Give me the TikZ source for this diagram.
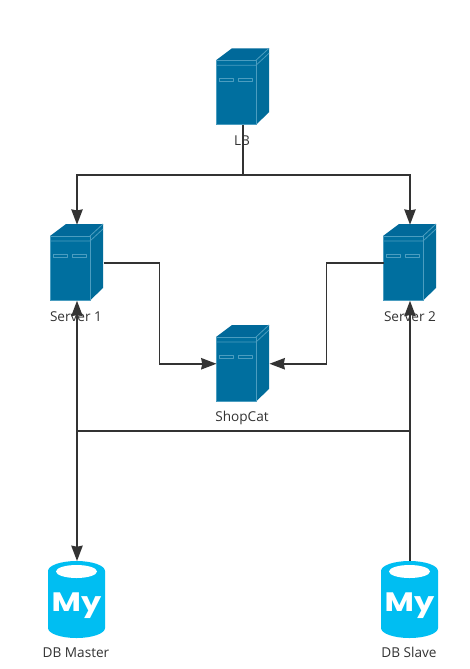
\documentclass[tikz,border=0pt]{standalone}
\usepackage{fontspec}
\setmainfont{Open Sans}
\newfontfamily\logofont{Poppins}
\usetikzlibrary{arrows.meta}
\definecolor{srvface}{HTML}{006F9F}
\definecolor{srvtop}{HTML}{00699A}
\definecolor{srvside}{HTML}{006C9A}
\definecolor{srvline}{HTML}{4B9DC0}
\definecolor{dbblue}{HTML}{00BEF2}
\definecolor{wire}{HTML}{333333}
\definecolor{labeltext}{HTML}{333333}
\tikzset{
  conn/.style={draw=wire,line width=1.3pt},
  arr/.style={-{Stealth[length=11.5pt,width=8.5pt,inset=0.8pt]}},
  srvbox/.style={minimum width=39.75pt,minimum height=57pt,inner sep=0pt,outer sep=0pt},
  dbbox/.style={minimum width=42.75pt,minimum height=57.75pt,inner sep=0pt,outer sep=0pt},
  lab/.style={text=labeltext,font=\fontsize{10.2pt}{12pt}\selectfont,inner sep=0pt},
  edgeline/.style={draw=srvline,line width=0.6pt,line join=round}
}
% #1 name, #2 centre x, #3 centre y
\newcommand{\serverat}[3]{%
  \begin{scope}[shift={(#2,#3)}]
    \fill[srvtop] (-26.5,-26) -- (-10.5,-38) -- (26.5,-38) -- (13.5,-26) -- cycle;
    \fill[srvside] (13.5,-26) -- (26.5,-38) -- (26.5,26) -- (13.5,38.5) -- cycle;
    \fill[srvface] (-26.5,-26) rectangle (13.5,38.5);
    \draw[edgeline] (-26.5,-26) rectangle (13.5,38.5);
    \draw[edgeline] (-26.5,-21) -- (13.5,-21) -- (26.5,-33);
    \draw[edgeline] (13.5,-26) -- (26.5,-38);
    \draw[edgeline] (-23,-8) rectangle (-9,-4.4);
    \draw[edgeline] (-4,-8) rectangle (10,-4.4);
    \node[srvbox] (#1) at (0.5,0.75) {};
  \end{scope}%
}
\newcommand{\dbat}[3]{%
  \begin{scope}[shift={(#2,#3)}]
    \fill[dbblue] (-28.5,-28.5) arc[start angle=180,end angle=360,x radius=28.5,y radius=10]
      -- (28.5,28.5) arc[start angle=0,end angle=180,x radius=28.5,y radius=10] -- cycle;
    \fill[white] (0,-28) ellipse[x radius=20.5,y radius=6.5];
    \node[text=white,inner sep=0pt,anchor=base,xscale=1.2] at (0,11.5) {\logofont\bfseries\fontsize{20pt}{20pt}\selectfont My};
    \node[dbbox] (#1) at (0.5,0) {};
  \end{scope}%
}
\begin{document}
\begin{tikzpicture}[x=0.75pt,y=-0.75pt]
\useasboundingbox (0,0) rectangle (470,669);
\fill[white] (0,0) rectangle (470,669);
\serverat{lb}{242.5}{86.25}
\serverat{srvA}{76.5}{262}
\serverat{srvB}{409.5}{262}
\serverat{shop}{242.5}{363}
\dbat{master}{76.5}{599.5}
\dbat{slave}{409.5}{599.5}
\coordinate (busL) at (77,431);
\coordinate (busR) at (410,431);
\coordinate (topbus) at (243,175);
\draw[conn] (lb.south) -- (topbus);
\draw[conn,arr] (topbus) -| (srvA.north);
\draw[conn,arr] (topbus) -| (srvB.north);
\draw[conn,arr] (srvA.east) -- ++(56,0) |- (shop.west);
\draw[conn,arr] (srvB.west) -- ++(-57,0) |- (shop.east);
\draw[conn,arr] (busL) -- (srvA.south);
\draw[conn,arr] (busL) -- (master.north);
\draw[conn] (busL) -- (busR);
\draw[conn,arr] (slave.north) -- (srvB.south);
% labels
\node[lab] (lbl) at (242,141) {LB};
\node[lab] (srvAl) at (76,316.5) {Server 1};
\node[lab] (srvBl) at (410,316.5) {Server 2};
\node[lab] (shopl) at (242,417.5) {ShopCat};
\node[lab] (masterl) at (76,652.5) {DB Master};
\node[lab] (slavel) at (409,652.5) {DB Slave};
\end{tikzpicture}
\end{document}
